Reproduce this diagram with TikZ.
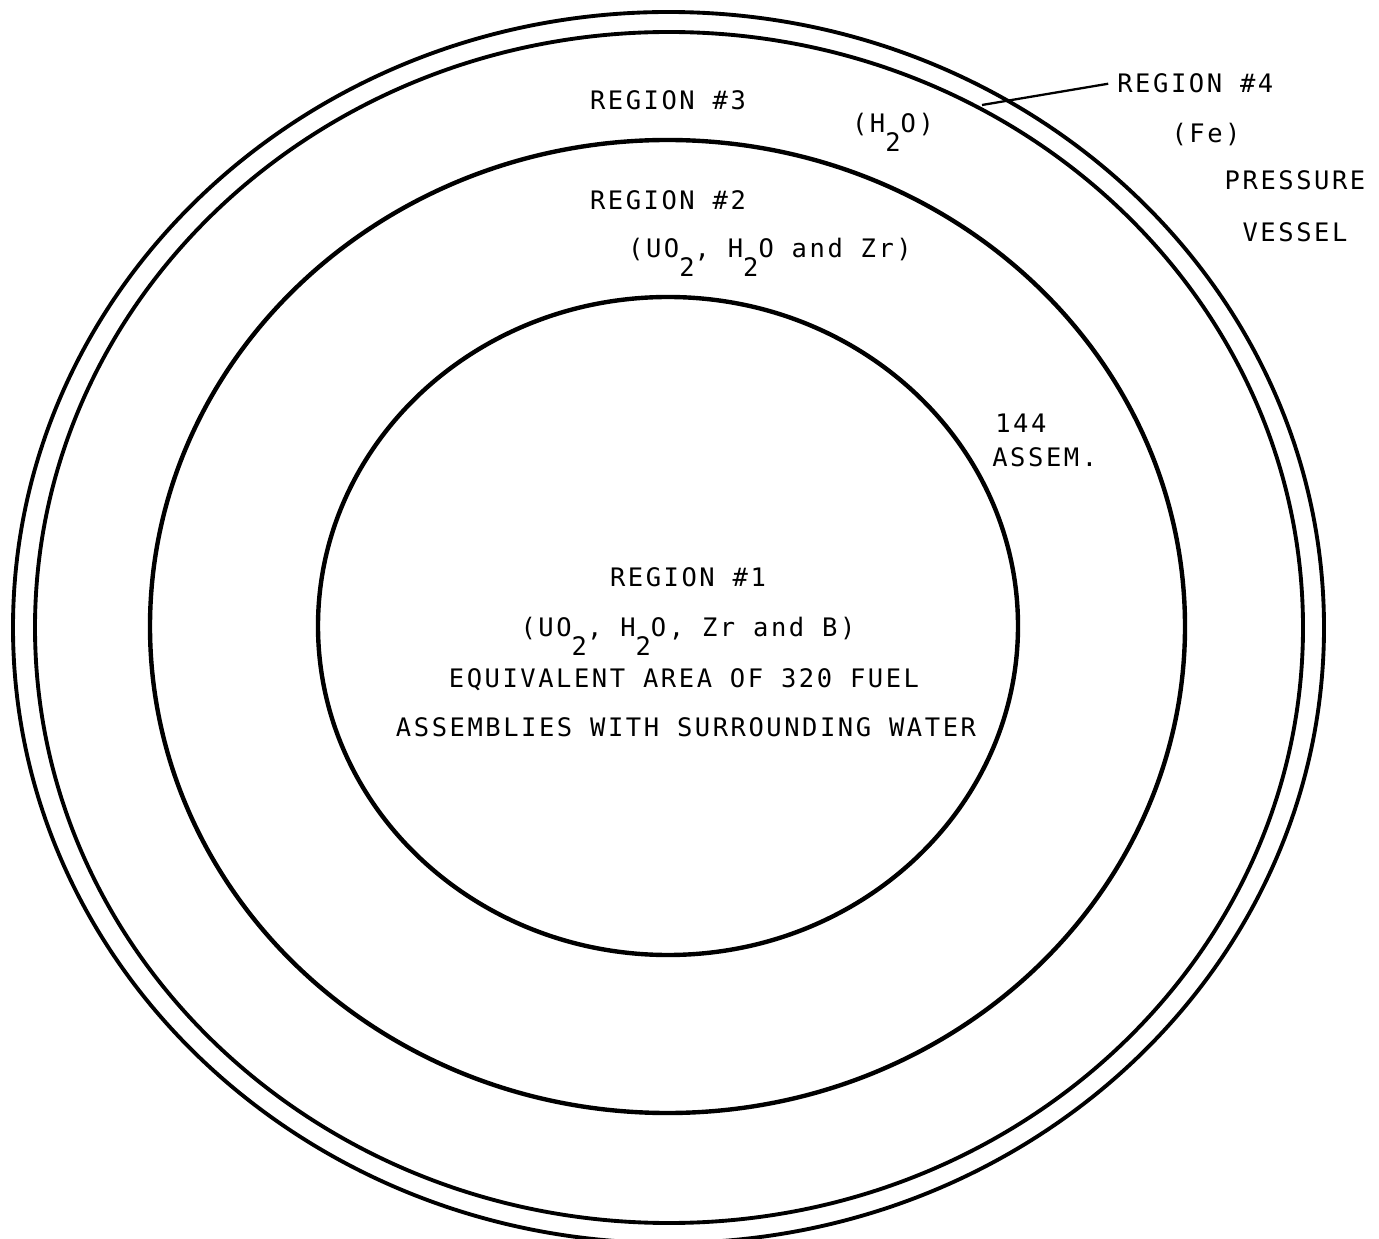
\documentclass[tikz,border=0pt]{standalone}
\usepackage{fontspec}
\setmainfont[LetterSpace=10]{DejaVu Sans Mono}
\usetikzlibrary{positioning}
\newcommand{\lowsub}[1]{\raisebox{-0.72em}{#1}}

\begin{document}
\begin{tikzpicture}[
  x=0.02cm, y=-0.02cm,
  font=\fontsize{14.5pt}{17pt}\selectfont,
  vessel/.style  ={draw, line width=2.2pt},
  zoneline/.style={draw, line width=2.5pt},
  txt/.style     ={anchor=base, inner sep=0pt},
  lefttxt/.style ={anchor=base west, inner sep=0pt},
  leader/.style  ={draw, line width=1.3pt},
]
\useasboundingbox (0,0) rectangle (1379,1239);
\clip (0,0) rectangle (1379,1239);

%% ============================================================
%%  Pressure vessel (region 4) and the core regions
%% ============================================================
\draw[vessel]   (668.5,627.5) ellipse [x radius=655.5, y radius=615.5];
\draw[vessel]   (669,627.5)   ellipse [x radius=634,   y radius=595.5];
\draw[zoneline] (667.5,626.5) ellipse [x radius=517.5, y radius=486.5];
\draw[zoneline] (668,626)     ellipse [x radius=350,   y radius=329];

%% ============================================================
%%  Region 4 labels (outside)
%% ============================================================
\node[lefttxt] (reg4) at (1117,93) {REGION \#4};
\node[txt] (fe)    at (1206,143) {(Fe)};
\node[txt] (press) at (1295,190) {PRESSURE};
\node[txt] (vess)  at (1295,242) {VESSEL};
\coordinate (lead) at (982,105);
\draw[leader] ([xshift=-5pt]reg4.west) -- (lead);

%% ============================================================
%%  Region 3 and region 2
%% ============================================================
\node[txt] (reg3) at (668,110) {REGION \#3};
\node[txt] (wat3) at (893,133) {(H\lowsub{2}O)};
\node[txt] (reg2) at (668,210) {REGION \#2};
\node[txt] (mix2) at (770,258) {(UO\lowsub{2}, H\lowsub{2}O and Zr)};
\node[lefttxt] (num)   at (995,433) {144};
\node[lefttxt] (assem) at (992,467) {ASSEM.};

%% ============================================================
%%  Region 1 (centre)
%% ============================================================
\node[txt] (reg1)  at (688,587) {REGION \#1};
\node[txt] (mix1)  at (688,637) {(UO\lowsub{2}, H\lowsub{2}O, Zr and B)};
\node[txt] (equiv) at (684,687) {EQUIVALENT AREA OF 320 FUEL};
\node[txt] (surr)  at (686,736) {ASSEMBLIES WITH SURROUNDING WATER};

\end{tikzpicture}
\end{document}
